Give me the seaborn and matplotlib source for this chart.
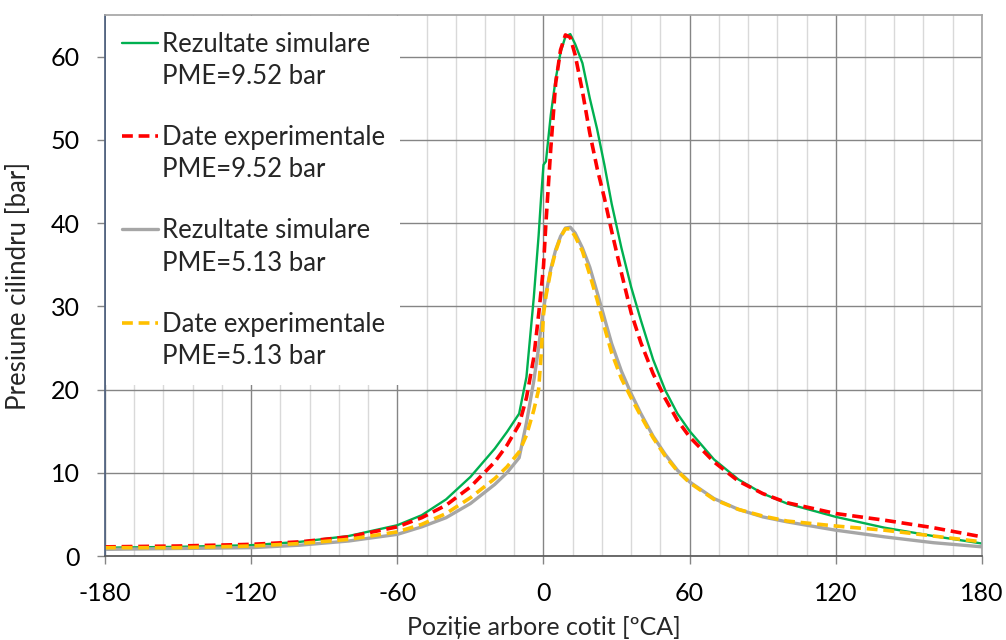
import numpy as np
import pandas as pd
import matplotlib
matplotlib.use("Agg")
import matplotlib.pyplot as plt
from matplotlib.lines import Line2D
from matplotlib.ticker import MultipleLocator
import seaborn as sns

# crank angle [deg CA]
angle = [-180, -150, -120, -100, -80, -60, -50, -40, -30, -20, -15, -10, -7, -4, -2, -1,
         0, 1, 3, 5, 7, 9, 11, 13, 16, 19, 22, 25, 28, 32, 36, 40, 45, 50, 55, 60,
         70, 80, 90, 100, 120, 140, 160, 180]

# cylinder pressure [bar]
sim_952 = [1.0, 1.1, 1.3, 1.7, 2.4, 3.7, 4.9, 6.8, 9.5, 12.9, 14.9, 17.1, 21.5, 31.0, 38.5, 43.0,
           47.0, 47.4, 53.0, 57.3, 60.5, 62.4, 62.7, 61.5, 59.2, 55.0, 51.3, 47.0, 42.3, 37.0, 32.3, 28.3, 23.6, 19.9, 17.1, 15.0,
           11.6, 9.2, 7.5, 6.3, 4.7, 3.4, 2.4, 1.5]
exp_952 = [1.1, 1.2, 1.4, 1.7, 2.3, 3.5, 4.6, 6.1, 8.3, 11.3, 13.3, 15.8, 19.0, 23.8, 29.0, 31.8,
           34.8, 40.0, 49.0, 56.8, 60.8, 62.6, 62.3, 60.2, 55.8, 50.8, 46.6, 43.0, 39.0, 34.0, 29.2, 25.6, 21.9, 18.9, 16.3, 14.3,
           11.3, 9.0, 7.5, 6.4, 5.1, 4.3, 3.4, 2.3]
sim_513 = [0.8, 0.9, 1.0, 1.3, 1.8, 2.6, 3.5, 4.6, 6.3, 8.6, 10.0, 11.8, 16.0, 21.0, 25.0, 27.5,
           29.6, 31.5, 34.5, 36.8, 38.4, 39.4, 39.5, 38.8, 37.0, 34.7, 31.7, 28.6, 25.5, 22.2, 19.5, 17.1, 14.4, 12.2, 10.3, 8.9,
           6.9, 5.6, 4.7, 4.1, 3.1, 2.3, 1.6, 1.1]
exp_513 = [1.0, 1.0, 1.2, 1.5, 2.0, 2.9, 3.8, 5.1, 7.0, 9.3, 10.7, 12.5, 14.5, 17.5, 20.0, 24.0,
           29.0, 31.2, 34.3, 36.6, 38.3, 39.3, 39.3, 38.4, 36.6, 33.8, 30.8, 27.5, 24.4, 21.3, 19.0, 16.8, 14.2, 12.0, 10.2, 8.8,
           6.8, 5.6, 4.8, 4.2, 3.6, 3.1, 2.4, 1.7]

series_names = ["Rezultate simulare", "Date experimentale",
                "Rezultate simulare", "Date experimentale"]
pme_labels = ["PME=9.52 bar", "PME=9.52 bar", "PME=5.13 bar", "PME=5.13 bar"]

df = pd.DataFrame({"angle": angle, "s952": sim_952, "e952": exp_952,
                   "s513": sim_513, "e513": exp_513})

sns.set_theme(style="white")
plt.rcParams["font.family"] = ["Lato", "DejaVu Sans"]
plt.rcParams["axes.unicode_minus"] = False

fig = plt.figure(figsize=(10.06, 6.4), dpi=100)
ax = fig.add_axes([0.1044, 0.13125, 0.8717, 0.8454])

dash = (0, (3, 1.6))
sns.lineplot(data=df, x="angle", y="s952", ax=ax, color="#00b050", linewidth=1.7, estimator=None)
sns.lineplot(data=df, x="angle", y="e952", ax=ax, color="#ff0000", linewidth=2.6,
             linestyle=dash, estimator=None)
sns.lineplot(data=df, x="angle", y="s513", ax=ax, color="#a6a6a6", linewidth=2.4, estimator=None)
sns.lineplot(data=df, x="angle", y="e513", ax=ax, color="#ffc000", linewidth=2.6,
             linestyle=dash, estimator=None)

ax.set_xlim(-180, 180)
ax.set_ylim(0, 65)
ax.xaxis.set_major_locator(MultipleLocator(60))
ax.xaxis.set_minor_locator(MultipleLocator(12))
ax.yaxis.set_major_locator(MultipleLocator(10))

ax.grid(which="major", axis="both", color="#858585", linewidth=1.0)
ax.grid(which="minor", axis="x", color="#d9d9d9", linewidth=1.0)
ax.set_axisbelow(True)

ax.tick_params(axis="x", which="major", direction="out", length=6, width=1,
               color="#858585", pad=13, labelsize=18, labelcolor="black", bottom=True)
ax.tick_params(axis="x", which="minor", length=0)
ax.tick_params(axis="y", direction="out", length=6, width=1, color="#858585",
               pad=12, labelsize=18, labelcolor="black", left=True)

for side in ["top", "right"]:
    ax.spines[side].set_color("#a6a6a6")
ax.spines["left"].set_color("#4f6280")
ax.spines["bottom"].set_color("#595959")

ax.set_xlabel("Poziție arbore cotit [ºCA]", fontsize=18)
ax.set_ylabel("Presiune cilindru [bar]", fontsize=18.5)
ax.xaxis.set_label_coords(0.5, -0.11)
ax.yaxis.set_label_coords(-0.084, 0.5)

# legend: handle on the first line of each entry, PME value on a second row
blank = Line2D([], [], color="none")
handles, texts = [], []
for i, line in enumerate(ax.get_lines()[:4]):
    handles += [line, blank]
    texts += [series_names[i], pme_labels[i]]
    if i < 3:
        handles.append(blank)
        texts.append(" ")

leg = ax.legend(handles, texts, loc="upper left", fontsize=18.5, frameon=True, fancybox=False,
                framealpha=1, facecolor="white", edgecolor="none", borderaxespad=0.05,
                handlelength=1.4, handletextpad=0.15, labelspacing=0.29, borderpad=0.6)
for t in leg.get_texts():
    if t.get_text() == " ":
        t.set_fontsize(13)
leg.set_zorder(5)

fig.savefig("out.png", dpi=100)
